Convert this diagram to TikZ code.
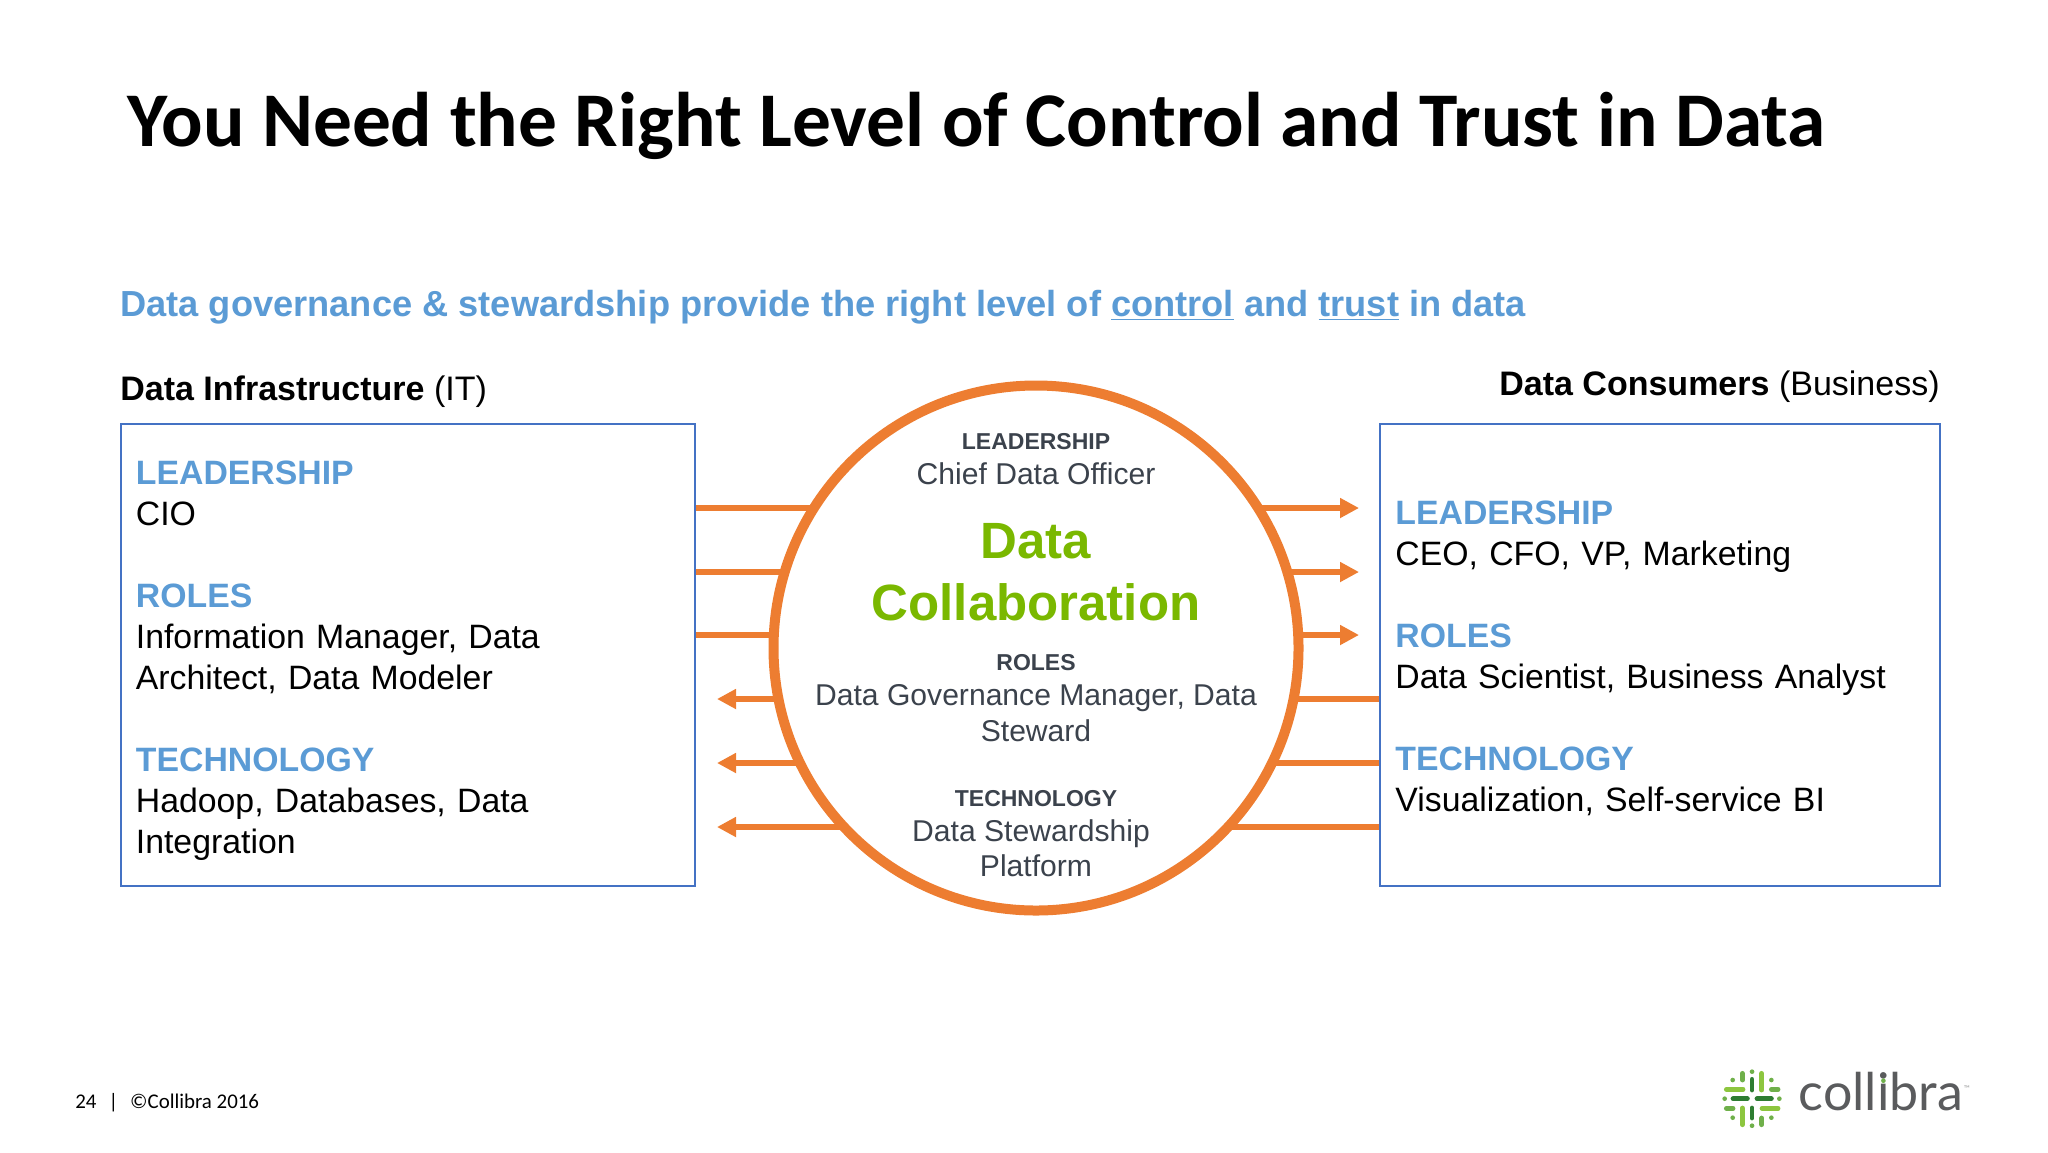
\documentclass[tikz,border=0pt]{standalone}
\usepackage{fontspec}
\setmainfont{Liberation Sans}
\newfontfamily\calibrilike{Carlito}
\newfontfamily\logofont{Lato}
\usetikzlibrary{arrows.meta, positioning, calc}
\definecolor{HeadBlue}{HTML}{5B9BD5}
\definecolor{BoxBlue}{HTML}{4472C4}
\definecolor{FlowOrange}{HTML}{ED7D31}
\definecolor{LeafGreen}{HTML}{7AB800}
\definecolor{SlateGray}{HTML}{3B424C}
\definecolor{LogoGray}{HTML}{5A5B5D}
\definecolor{LogoLime}{HTML}{8DC63F}
\definecolor{LogoMid}{HTML}{6FB04A}
\definecolor{LogoDark}{HTML}{2E7D32}
\newcommand{\headcolor}[1]{\textcolor{HeadBlue}{\textbf{#1}}}
\tikzset{
    infobox/.style={draw=BoxBlue,line width=1pt,anchor=north west,minimum height=231pt,
        inner xsep=7.7pt,inner ysep=0pt,align=left,font=\fontsize{16.9pt}{20.5pt}\selectfont},
    sidehead/.style={anchor=base,font=\fontsize{17pt}{20pt}\selectfont},
    hubhead/.style={anchor=base,text=SlateGray,font=\fontsize{11.5pt}{14pt}\bfseries\selectfont},
    hubtext/.style={anchor=base,text=SlateGray,font=\fontsize{15.05pt}{18pt}\selectfont},
    hubtitle/.style={anchor=base,text=LeafGreen,font=\fontsize{25.5pt}{30pt}\bfseries\selectfont},
    flow/.style={draw=FlowOrange,line width=3pt},
    flowtip/.style={flow,-{Triangle[length=9.5pt,width=9.5pt]}}
}
\begin{document}
\begin{tikzpicture}[x=0.5pt,y=-0.5pt]
    \useasboundingbox (0,0) rectangle (2048,1152);

    % Title and subtitle
    \node[anchor=base west,inner sep=0pt,font=\fontsize{38.7pt}{46pt}\bfseries\calibrilike\selectfont] (title) at (127,146)
        {You Need the Right Level of Control and Trust in Data};
    \node[anchor=base west,inner sep=0pt,text=HeadBlue,font=\fontsize{18.12pt}{22pt}\bfseries\selectfont] (subtitle) at (120,316)
        {Data governance \& stewardship provide the right level of \underline{control} and \underline{trust} in data};

    % Side boxes
    \node[sidehead,anchor=base west,inner sep=0pt] (infrahead) at (120,400) {\textbf{Data Infrastructure} (IT)};
    \node[sidehead,anchor=base east,inner sep=0pt] (consumerhead) at (1940,395) {\textbf{Data Consumers} (Business)};
    \node[infobox,text width=272pt] (infra) at (119.5,422.5) {
        \rule{0pt}{17.5pt}\headcolor{LEADERSHIP}\\
        CIO\\[20.5pt]
        \headcolor{ROLES}\\
        Information Manager, Data\\
        Architect, Data Modeler\\[20.5pt]
        \headcolor{TECHNOLOGY}\\
        Hadoop, Databases, Data\\
        Integration
    };
    \node[infobox,text width=264.6pt] (consumer) at (1379,422.5) {
        \rule{0pt}{16pt}\headcolor{LEADERSHIP}\\
        CEO, CFO, VP, Marketing\\[20.5pt]
        \headcolor{ROLES}\\
        Data Scientist, Business Analyst\\[20.5pt]
        \headcolor{TECHNOLOGY}\\
        Visualization, Self-service BI
    };

    % Central circle
    \node[circle,draw=FlowOrange,fill=white,line width=5pt,outer sep=0pt,inner sep=0pt,minimum size=262.5pt] (hub) at (1036,648) {};
    \node[hubhead] (hubleadhead) at (1036,449) {LEADERSHIP};
    \node[hubtext] (hublead) at (1036,484) {Chief Data Officer};
    \node[hubtitle] (hubdata) at (1036,558) {Data};
    \node[hubtitle] (hubcollab) at (1036,620) {Collaboration};
    \node[hubhead] (hubrolehead) at (1036,670) {ROLES};
    \node[hubtext] (hubrole) at (1036,705) {Data Governance Manager, Data};
    \node[hubtext] (hubsteward) at (1036,741) {Steward};
    \node[hubhead] (hubtechhead) at (1036,806) {TECHNOLOGY};
    \node[hubtext] (hubtech) at (1031,841) {Data Stewardship};
    \node[hubtext] (hubplatform) at (1036,876) {Platform};

    % Connectors
    \coordinate (lefttip) at (717,648);
    \coordinate (righttip) at (1359,648);
    \foreach \lane/\reach in {508/222,572/251,635/262} {
        \draw[flow] (infra.east |- 0,\lane) -- ($(hub.center |- 0,\lane)+(-\reach,0)$);
        \draw[flowtip] ($(hub.center |- 0,\lane)+(\reach,0)$) -- (righttip |- 0,\lane);
    }
    \foreach \lane/\reach in {699/257,763/236,827/192} {
        \draw[flowtip] ($(hub.center |- 0,\lane)+(-\reach,0)$) -- (lefttip |- 0,\lane);
        \draw[flow] ($(hub.center |- 0,\lane)+(\reach,0)$) -- (consumer.west |- 0,\lane);
    }

    % Footer
    \node[anchor=base west,inner sep=0pt,font=\fontsize{10.45pt}{12pt}\calibrilike\selectfont] (footer) at (75,1108)
        {24\hspace{6pt}|\hspace{6pt}©Collibra 2016};

    % Logo
    \begin{scope}[shift={(1680,1040)},x=0.1667pt,y=-0.1667pt,line width=2.4pt,line cap=round]
        \foreach \xa/\ya/\xb/\yb/\col in {
            187/100/187/120/LogoMid, 216/118/216/150/LogoDark, 245/100/245/150/LogoLime,
            187/204/187/254/LogoLime, 216/204/216/234/LogoDark, 245/234/245/254/LogoMid,
            139/148/189/148/LogoLime, 274/148/294/148/LogoMid,
            159/176/202/176/LogoDark, 231/176/274/176/LogoDark,
            139/205/159/205/LogoMid, 246/205/294/205/LogoLime} {
            \draw[\col] (\xa,\ya) -- (\xb,\yb);
        }
        \foreach \xa/\ya in {216/95,216/257,134/176,298/176,158/120,274/120,158/233,274/233} {
            \fill[LogoMid] (\xa,\ya) circle (7);
        }
        \node[anchor=base west,inner sep=0pt,text=LogoGray,font=\fontsize{26pt}{30pt}\logofont\selectfont] (logotext) at (349,212) {collibra};
        \fill[LogoMid] (610,122) circle (7);
        \node[inner sep=0pt,text=LogoGray!60,font=\fontsize{4pt}{5pt}\logofont\selectfont] (logotm) at (860,146) {™};
    \end{scope}
\end{tikzpicture}
\end{document}
